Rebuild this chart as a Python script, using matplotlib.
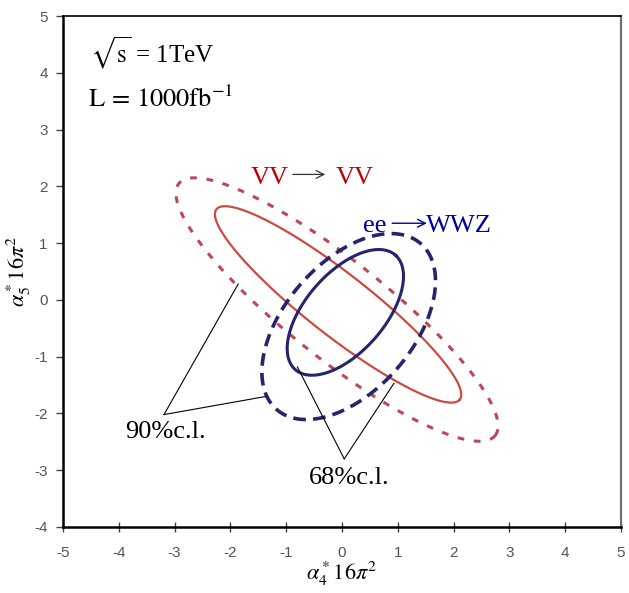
import numpy as np
import matplotlib
matplotlib.use("Agg")
from matplotlib import pyplot as plt

plt.rcParams["font.family"] = ["Liberation Serif", "DejaVu Serif"]
plt.rcParams["mathtext.fontset"] = "stix"
plt.rcParams["axes.unicode_minus"] = False

# confidence contours: centre x, centre y, semi-major, semi-minor, angle (deg)
vv_68 = [-0.07, -0.08, 2.75, 0.55, -37.5]
vv_90 = [-0.09, -0.17, 3.6, 0.87, -38.0]
ww_68 = [0.06, -0.22, 1.35, 0.70, 48.0]
ww_90 = [0.12, -0.47, 1.95, 1.14, 48.0]

# label pointer lines (from label vertex to contour)
cl90_vertex = (-3.19, -2.02)
cl90_targets = [(-1.86, 0.28), (-1.36, -1.70)]
cl68_vertex = (0.04, -2.80)
cl68_targets = [(-0.80, -1.18), (0.93, -1.47)]

xticks = list(range(-5, 6))
yticks = list(range(-4, 6))

RED = "#cc4a42"
RED_DOT = "#c04555"
NAVY = "#25256e"


def ellipse(p, n=400):
    cx, cy, a, b, ang = p
    t = np.linspace(0, 2 * np.pi, n)
    th = np.deg2rad(ang)
    x = cx + a * np.cos(t) * np.cos(th) - b * np.sin(t) * np.sin(th)
    y = cy + a * np.cos(t) * np.sin(th) + b * np.sin(t) * np.cos(th)
    return x, y


fig = plt.figure(figsize=(6.29, 5.93), dpi=100)
ax = fig.add_axes([63 / 629, 1 - 527 / 593, 558 / 629, 511 / 593])
ax.set_xlim(-5, 5)
ax.set_ylim(-4, 5)

x, y = ellipse(vv_90)
ax.plot(x, y, color=RED_DOT, lw=2.2, dashes=(2.2, 3.2))
x, y = ellipse(vv_68)
ax.plot(x, y, color=RED, lw=1.6)
x, y = ellipse(ww_90)
ax.plot(x, y, color=NAVY, lw=2.6, dashes=(3.5, 2.0))
x, y = ellipse(ww_68)
ax.plot(x, y, color=NAVY, lw=2.2)

for v, targets in [(cl90_vertex, cl90_targets), (cl68_vertex, cl68_targets)]:
    for tx, ty in targets:
        ax.plot([v[0], tx], [v[1], ty], color="black", lw=0.8)

fs = 19
ax.text(-3.17, -2.44, "90%c.l.", ha="center", va="baseline", fontsize=fs)
ax.text(0.13, -3.25, "68%c.l.", ha="center", va="baseline", fontsize=fs)

ax.text(-1.29, 2.04, "VV", color="#c00000", ha="center", va="baseline", fontsize=fs)
ax.text(0.23, 2.04, "VV", color="#c00000", ha="center", va="baseline", fontsize=fs)
ax.annotate("", xy=(-0.30, 2.21), xytext=(-0.88, 2.21),
            arrowprops=dict(arrowstyle="->", color="#333333", lw=0.9,
                            shrinkA=0, shrinkB=0, mutation_scale=14))

ax.text(0.58, 1.19, "ee", color="#0000a0", ha="center", va="baseline", fontsize=fs)
ax.text(2.1, 1.19, "WWZ", color="#0000a0", ha="center", va="baseline", fontsize=fs)
ax.annotate("", xy=(1.52, 1.35), xytext=(0.90, 1.35),
            arrowprops=dict(arrowstyle="->", color="#0000a0", lw=1.0,
                            shrinkA=0, shrinkB=0, mutation_scale=14))

ax.text(-4.52, 4.18, r"$\sqrt{\mathrm{s}}$ = 1TeV", ha="left",
        va="baseline", fontsize=18)
ax.text(-4.55, 3.40, r"$\mathrm{L\,=\,1000fb}^{-1}$", ha="left",
        va="baseline", fontsize=fs)

ax.set_xticks(xticks)
ax.set_yticks(yticks)
ax.tick_params(axis="x", direction="inout", length=7, width=1.0, pad=10,
               labelsize=11, labelcolor="#555555", color="#444444")
ax.tick_params(axis="y", direction="out", length=5, width=1.0, pad=6,
               labelsize=11, labelcolor="#555555", color="#444444")
for lab in ax.get_xticklabels() + ax.get_yticklabels():
    lab.set_fontfamily("Liberation Sans")

ax.spines["left"].set_linewidth(1.8)
ax.spines["bottom"].set_linewidth(1.8)
ax.spines["top"].set_linewidth(1.2)
ax.spines["right"].set_linewidth(1.6)
ax.spines["right"].set_color("#707070")

ax.set_xlabel(r"$\alpha_4^*16\pi^2$", fontsize=16, labelpad=0)
ax.set_ylabel(r"$\alpha_5^*16\pi^2$", fontsize=16, labelpad=1)

fig.savefig("out.png", dpi=100)
